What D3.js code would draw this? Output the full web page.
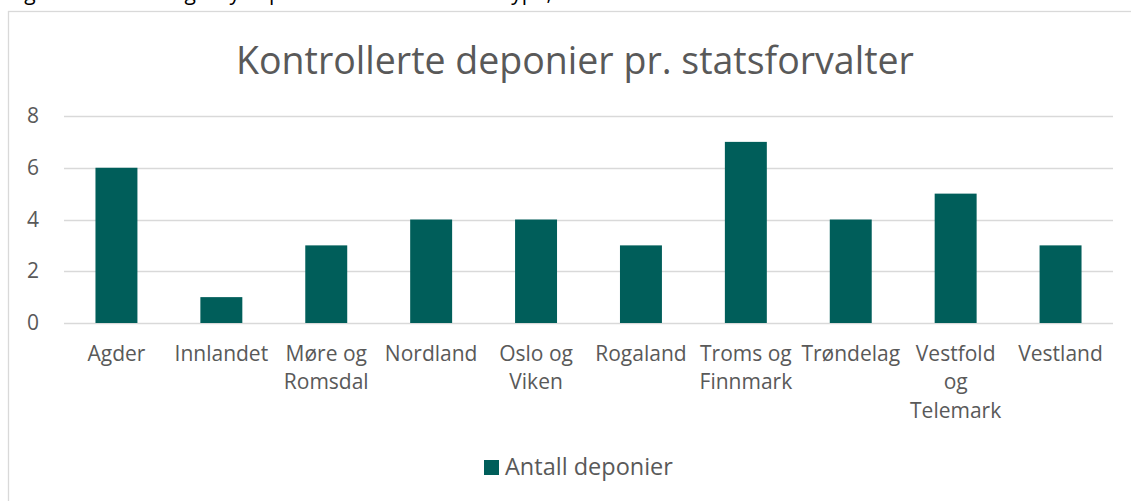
<!DOCTYPE html>
<html>
<head>
<meta charset="utf-8">
<script src="https://cdn.jsdelivr.net/npm/d3@7"></script>
<style>
  body { margin: 0; background: #fff; }
  text { font-family: "Open Sans", "Noto Sans", sans-serif; }
</style>
</head>
<body>
<div id="canvas"></div>
<script>
var width = 1131,
    height = 501;

// data
var categories = ["Agder", "Innlandet", "Møre og Romsdal", "Nordland", "Oslo og Viken",
                  "Rogaland", "Troms og Finnmark", "Trøndelag", "Vestfold og Telemark", "Vestland"];
var antallDeponier = [6, 1, 3, 4, 4, 3, 7, 4, 5, 3];
var yTicks = [0, 2, 4, 6, 8];

var chartTitle = "Kontrollerte deponier pr. statsforvalter",
    seriesName = "Antall deponier",
    barColor = "#005e5a",
    textColor = "#595959";

var plot = {left: 64, right: 1113, top: 116, bottom: 323};

var svg = d3.select("#canvas").append("svg")
    .attr("width", width)
    .attr("height", height);

// caption line from the page above, only its descenders show
svg.append("text")
    .attr("x", 8)
    .attr("y", 0)
    .attr("font-size", 21)
    .attr("fill", "#000")
    .text("Figur 4: Oversikt og tilsyn i perioden 2019–21 etter type,");

// chart frame
svg.append("rect")
    .attr("x", 8.5)
    .attr("y", 11.5)
    .attr("width", 1140)
    .attr("height", 520)
    .attr("fill", "#fff")
    .attr("stroke", "#d9d9d9")
    .attr("stroke-width", 1.3);

var x = d3.scaleBand()
    .domain(categories)
    .range([plot.left, plot.right])
    .paddingInner(0.6)
    .paddingOuter(0.3);

var y = d3.scaleLinear()
    .domain([0, 8])
    .range([plot.bottom, plot.top]);

// gridlines
svg.append("g")
    .selectAll("line")
    .data(yTicks)
    .enter().append("line")
    .attr("x1", plot.left)
    .attr("x2", plot.right)
    .attr("y1", function(d){ return Math.round(y(d)) + 0.5; })
    .attr("y2", function(d){ return Math.round(y(d)) + 0.5; })
    .attr("stroke", "#d9d9d9")
    .attr("stroke-width", 1.3);

// y axis labels
var yAxis = d3.axisLeft(y).tickValues(yTicks).tickSize(0).tickPadding(0);
var gy = svg.append("g")
    .attr("transform", "translate(39,0)")
    .call(yAxis);
gy.select(".domain").remove();
gy.selectAll("text")
    .attr("font-size", 21)
    .attr("fill", textColor)
    .style("font-family", "'Open Sans', 'Noto Sans', sans-serif");

// bars
svg.selectAll(".bar")
    .data(antallDeponier)
    .enter().append("rect")
    .attr("class", "bar")
    .attr("x", function(d, i){ return x(categories[i]); })
    .attr("width", x.bandwidth())
    .attr("y", function(d){ return y(d); })
    .attr("height", function(d){ return y(0) - y(d); })
    .attr("fill", barColor);

// x axis labels (wrapped like Excel)
var xAxis = d3.axisBottom(x).tickSize(0).tickPadding(0);
var gx = svg.append("g")
    .attr("transform", "translate(0," + (plot.bottom + 31) + ")")
    .call(xAxis);
gx.select(".domain").remove();
gx.selectAll("text")
    .attr("font-size", 21)
    .attr("fill", textColor)
    .style("font-family", "'Open Sans', 'Noto Sans', sans-serif")
    .call(wrap, 100);

function wrap(texts, maxWidth) {
  texts.each(function() {
    var t = d3.select(this),
        words = t.text().split(/\s+/),
        lines = [],
        line = [];
    t.text(null);
    var probe = t.append("tspan");
    words.forEach(function(w) {
      line.push(w);
      probe.text(line.join(" "));
      if (probe.node().getComputedTextLength() > maxWidth && line.length > 1) {
        line.pop();
        lines.push(line.join(" "));
        line = [w];
      }
    });
    lines.push(line.join(" "));
    probe.remove();
    t.attr("dy", null).attr("y", 0);
    lines.forEach(function(l, i) {
      t.append("tspan")
        .attr("x", 0)
        .attr("y", i * 28.5)
        .attr("dy", "0.32em")
        .text(l);
    });
  });
}

// title
svg.append("text")
    .attr("x", 575)
    .attr("y", 74)
    .attr("text-anchor", "middle")
    .attr("font-size", 37.5)
    .attr("fill", textColor)
    .text(chartTitle);

// legend
var legend = svg.append("g").attr("transform", "translate(484,460)");
legend.append("rect")
    .attr("width", 15)
    .attr("height", 15)
    .attr("fill", barColor);
legend.append("text")
    .attr("x", 21)
    .attr("y", 15)
    .attr("font-size", 23.5)
    .attr("fill", textColor)
    .text(seriesName);
</script>
</body>
</html>
